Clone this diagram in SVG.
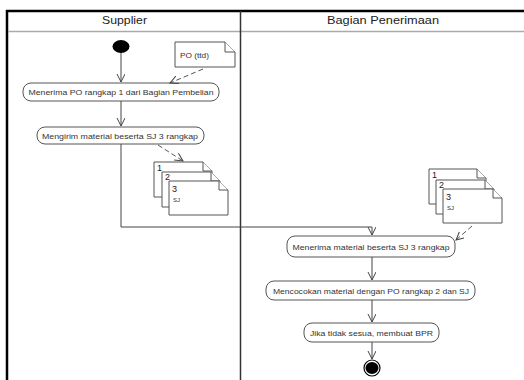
<svg xmlns="http://www.w3.org/2000/svg" width="524" height="380" viewBox="0 0 524 380">
<style>
.act{fill:#fff;stroke:#555;stroke-width:1}
.t{font-family:"Liberation Sans",Arial,sans-serif;font-size:8px;fill:#333}
.h{font-family:"Liberation Sans",Arial,sans-serif;font-size:11px;fill:#222}
.flow{fill:none;stroke:#444;stroke-width:1}
.dash{fill:none;stroke:#555;stroke-width:1;stroke-dasharray:5,3}
.doc{fill:#fff;stroke:#555;stroke-width:1}
.n{font-family:"Liberation Sans",Arial,sans-serif;font-size:9px;fill:#222}
.s{font-family:"Liberation Sans",Arial,sans-serif;font-size:6px;fill:#333}
</style>
<defs>
<marker id="arr" markerWidth="10" markerHeight="10" refX="8" refY="4" orient="auto" markerUnits="userSpaceOnUse">
<path d="M0,0 L8,4 L0,8" fill="none" stroke="#444" stroke-width="1"/>
</marker>
</defs>
<rect x="0" y="0" width="524" height="380" fill="#fff"/>
<g id="lanes">
<line x1="6" y1="11" x2="524" y2="11" stroke="#000" stroke-width="2.5"/>
<line x1="7" y1="10" x2="7" y2="380" stroke="#000" stroke-width="2.5"/>
<line x1="8" y1="31.5" x2="524" y2="31.5" stroke="#aaa" stroke-width="1.5"/>
<line x1="240.5" y1="11" x2="240.5" y2="380" stroke="#333" stroke-width="1.5"/>
<text class="h" x="124.5" y="24" text-anchor="middle" textLength="45" lengthAdjust="spacingAndGlyphs">Supplier</text>
<text class="h" x="383" y="24" text-anchor="middle" textLength="112" lengthAdjust="spacingAndGlyphs">Bagian Penerimaan</text>
</g>
<g id="start"><ellipse cx="121" cy="46.5" rx="8.5" ry="6.5" fill="#000"/></g>
<g id="note-po">
<path class="doc" d="M175,42 H225 L235,52 V67 H175 Z"/>
<path class="doc" d="M225,42 V52 H235" fill="none"/>
<text class="s" x="180" y="57.5" style="font-size:7px" textLength="29" lengthAdjust="spacingAndGlyphs">PO (ttd)</text>
</g>
<g id="a1">
<rect class="act" x="23" y="83" width="196" height="18" rx="8"/>
<text class="t" x="121" y="95" text-anchor="middle" textLength="185" lengthAdjust="spacingAndGlyphs">Menerima PO rangkap 1 dari Bagian Pembelian</text>
</g>
<g id="a2">
<rect class="act" x="37" y="127" width="167" height="17" rx="8"/>
<text class="t" x="120" y="138.5" text-anchor="middle" textLength="156" lengthAdjust="spacingAndGlyphs">Mengirim material beserta SJ 3 rangkap</text>
</g>
<g id="sj-left">
<path class="doc" d="M154,162 H203 L212,171 V197 H154 Z"/>
<path class="doc" d="M203,162 V171 H212" fill="none"/>
<text class="n" x="157" y="170.5">1</text>
<path class="doc" d="M162,172 H211 L220,181 V207 H162 Z"/>
<path class="doc" d="M211,172 V181 H220" fill="none"/>
<text class="n" x="165" y="180">2</text>
<path class="doc" d="M169,181 H219 L228,190 V215 H169 Z"/>
<path class="doc" d="M219,181 V190 H228" fill="none"/>
<text class="n" x="172" y="191.5">3</text>
<text class="s" x="173" y="202">SJ</text>
</g>
<g id="sj-right">
<path class="doc" d="M429,169 H477 L486,178 V204 H429 Z"/>
<path class="doc" d="M477,169 V178 H486" fill="none"/>
<text class="n" x="432" y="178">1</text>
<path class="doc" d="M436,180 H485 L494,189 V214 H436 Z"/>
<path class="doc" d="M485,180 V189 H494" fill="none"/>
<text class="n" x="439" y="188">2</text>
<path class="doc" d="M443,189 H493 L502,198 V223 H443 Z"/>
<path class="doc" d="M493,189 V198 H502" fill="none"/>
<text class="n" x="446" y="199.5">3</text>
<text class="s" x="447" y="210">SJ</text>
</g>
<g id="a3">
<rect class="act" x="287" y="236" width="168" height="21" rx="8"/>
<text class="t" x="371" y="249.5" text-anchor="middle" textLength="157" lengthAdjust="spacingAndGlyphs">Menerima material beserta SJ 3 rangkap</text>
</g>
<g id="a4">
<rect class="act" x="266" y="281" width="209" height="19" rx="8"/>
<text class="t" x="371" y="293.5" text-anchor="middle" textLength="196" lengthAdjust="spacingAndGlyphs">Mencocokan material dengan PO rangkap 2 dan SJ</text>
</g>
<g id="a5">
<rect class="act" x="304" y="323" width="135" height="19" rx="8"/>
<text class="t" x="371.5" y="335.5" text-anchor="middle" textLength="123" lengthAdjust="spacingAndGlyphs">Jika tidak sesua, membuat BPR</text>
</g>
<g id="end">
<circle cx="372" cy="368" r="8" fill="#fff" stroke="#000" stroke-width="1.2"/>
<ellipse cx="372" cy="368" rx="6.5" ry="6" fill="#000"/>
</g>
<g id="connectors">
<path class="flow" d="M121,53 V82" marker-end="url(#arr)"/>
<path class="flow" d="M121,101 V126" marker-end="url(#arr)"/>
<path class="flow" d="M121,144 V227 H372 V235" marker-end="url(#arr)"/>
<path class="flow" d="M372,257 V280" marker-end="url(#arr)"/>
<path class="flow" d="M372,300 V322" marker-end="url(#arr)"/>
<path class="flow" d="M372,342 V359" marker-end="url(#arr)"/>
<path class="dash" d="M203,69 L170,83" marker-end="url(#arr)"/>
<path class="dash" d="M158,145 L183,161" marker-end="url(#arr)"/>
<path class="dash" d="M472,226 L456,240" marker-end="url(#arr)"/>
</g>
</svg>
